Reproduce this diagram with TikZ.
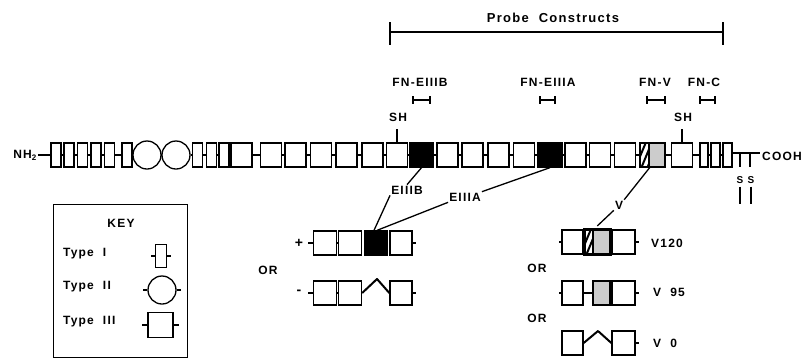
\documentclass[tikz,border=0pt]{standalone}
\usepackage{fontspec}
\setmainfont{Liberation Sans}[LetterSpace=10]
\usetikzlibrary{calc}
\begin{document}
\begin{tikzpicture}[x=1pt,y=-1pt,
  lw/.style={line width=1.3pt},
  dom/.style={draw, lw, fill=white, rectangle, inner sep=0pt, minimum height=24pt},
  tI/.style={dom, minimum width=10pt},
  tIII/.style={dom, minimum width=21pt},
  tII/.style={draw, lw, fill=white, circle, inner sep=0pt, minimum size=28pt},
  blk/.style={tIII, fill=black},
  stip/.style={dom, fill=gray!40},
  lab/.style={font=\fontsize{12}{14}\selectfont\bfseries, inner sep=1pt},
  rlab/.style={font=\fontsize{12}{14}\selectfont\bfseries, inner sep=1pt},
  bar/.style={line width=1.6pt},
  conn/.style={lw},
]
\useasboundingbox (0,0) rectangle (803,360);

% ---------- probe constructs ----------
\node[lab, font=\fontsize{13}{15}\selectfont\bfseries] (probe) at (553,18) {Probe\ \ Constructs};
\coordinate (pl) at (390,32);
\coordinate (pr) at (723,32);
\draw[lw] (pl) -- (pr);
\draw[lw] ($(pl)+(0,-10)$) -- ($(pl)+(0,13)$);
\draw[lw] ($(pr)+(0,-10)$) -- ($(pr)+(0,13)$);

\foreach \n/\x/\a/\b/\t in {fb/420/413/430/FN-EIIIB, fa/548/540/555/FN-EIIIA, fv/655/647/665/FN-V, fc/704/700/715/FN-C}{
  \node[lab] (\n) at (\x,82) {\t};
  \draw[bar] (\a,100) -- (\b,100);
  \draw[bar] (\a,96) -- (\a,104);
  \draw[bar] (\b,96) -- (\b,104);
}

% ---------- main chain ----------
\node[rlab] (nh2) at (25,155) {NH\textsubscript{2}};
\node[tI] (t1) at (56,155) {};
\node[tI] (t2) at (69,155) {};
\node[tI] (t3) at (82.5,155) {};
\node[tI] (t4) at (96,155) {};
\node[tI] (t5) at (109.5,155) {};
\node[tI] (t6) at (127,155) {};
\node[tII] (c1) at (147,155) {};
\node[tII] (c2) at (176,155) {};
\node[tI] (t7) at (197.5,155) {};
\node[tI] (t8) at (211.5,155) {};
\node[tI] (t9) at (224,155) {};
\node[tIII] (a1) at (241.5,155) {};
\node[tIII] (a2) at (271,155) {};
\node[tIII] (a3) at (295.5,155) {};
\node[tIII] (a4) at (321,155) {};
\node[tIII] (a5) at (346.5,155) {};
\node[tIII] (a6) at (372.5,155) {};
\node[tIII] (a7) at (397,155) {};
\node[blk, minimum width=23pt] (EB) at (421.5,155) {};
\node[tIII] (a8) at (447.5,155) {};
\node[tIII] (a9) at (472.5,155) {};
\node[tIII] (a10) at (498.5,155) {};
\node[tIII] (a11) at (524,155) {};
\node[blk, minimum width=24pt] (EA) at (550,155) {};
\node[tIII] (a12) at (575.5,155) {};
\node[tIII] (a13) at (600,155) {};
\node[tIII] (a14) at (625,155) {};
\node[dom, minimum width=9pt] (Vh) at (644.5,155) {};
\node[stip, minimum width=16pt] (Vs) at (657,155) {};
\node[tIII] (a15) at (682,155) {};
\node[tI, minimum width=8pt] (t10) at (704,155) {};
\node[tI, minimum width=9pt] (t11) at (715.5,155) {};
\node[tI, minimum width=9pt] (t12) at (727.5,155) {};
\begin{scope}
  \clip (Vh.south west) rectangle (Vh.north east);
  \foreach \d in {-10,-4,2,8} \draw[line width=2pt] ($(Vh.south west)+(\d,0)$) -- ++(10,-24);
\end{scope}
\draw[lw] (Vh.south west) rectangle (Vh.north east);

\foreach \a/\b in {t1/t2,t2/t3,t3/t4,t4/t5,t5/t6,t6/c1,c1/c2,c2/t7,t7/t8,t8/t9,t9/a1,a1/a2,a2/a3,a3/a4,a4/a5,a5/a6,a6/a7,a7/EB,EB/a8,a8/a9,a9/a10,a10/a11,a11/EA,EA/a12,a12/a13,a13/a14,a14/Vh,Vs/a15,a15/t10,t10/t11,t11/t12}
  \draw[conn] (\a) -- (\b);
\draw[conn] (nh2.east) -- (t1.west);

% C-terminal tail
\coordinate (tailend) at (760,153);
\coordinate (s1) at (740,153);
\coordinate (s2) at (750,153);
\draw[conn] (t12.east |- tailend) -- (tailend);
\draw[conn] (s1) -- ++(0,14);
\draw[conn] (s2) -- ++(0,14);
\node[rlab] (cooh) at (782,156) {COOH};
\node[rlab, font=\fontsize{10}{12}\selectfont\bfseries] (S1) at (740,180) {S};
\node[rlab, font=\fontsize{10}{12}\selectfont\bfseries] (S2) at (751,180) {S};
\draw[conn] ($(S1.south)+(0,2)$) -- ++(0,17);
\draw[conn] ($(S2.south)+(0,2)$) -- ++(0,17);

% SH
\node[rlab] (sh1) at (398,117) {SH};
\node[rlab] (sh2) at (683,117) {SH};
\draw[conn] (a7.north) -- ++(0,-13);
\draw[conn] (a15.north) -- ++(0,-13);

% ---------- labels below chain ----------
\node[rlab] (lEB) at (407,190) {EIIIB};
\node[rlab] (lEA) at (465,197) {EIIIA};
\node[rlab] (lV) at (619,205) {V};
\draw[conn] (EB.south) -- (lEB.north);
\draw[conn] (EA.south) -- (lEA.north east);
\draw[conn] (Vh.south east) -- (lV.north east);

% ---------- EIII alternatives ----------
\node[rlab, font=\fontsize{14}{16}\selectfont\bfseries] (plus) at (299,243) {+};
\node[tIII, minimum width=23pt] (p1) at (325,243) {};
\node[tIII, minimum width=23pt] (p2) at (350,243) {};
\node[blk, minimum width=23pt] (pb) at (376,243) {};
\node[tIII, minimum width=22pt] (p4) at (401,243) {};
\coordinate (pl0) at (308,243);
\coordinate (pr0) at (416,243);
\draw[conn] (pl0) -- (p1.west);
\draw[conn] (p1) -- (p2);
\draw[conn] (p4.east) -- (pr0);

\node[rlab] (or1) at (268,270) {OR};

\node[rlab, font=\fontsize{14}{16}\selectfont\bfseries] (minus) at (299,292) {-};
\node[tIII, minimum width=23pt] (m1) at (325,293) {};
\node[tIII, minimum width=23pt] (m2) at (350,293) {};
\node[tIII, minimum width=22pt] (m4) at (401,293) {};
\coordinate (ml0) at (308,293);
\coordinate (mr0) at (416,293);
\coordinate (mpeak) at (377,279);
\draw[conn] (ml0) -- (m1.west);
\draw[conn] (m1) -- (m2);
\draw[conn] (m4.east) -- (mr0);
\draw[line width=2pt, line join=round] (m2.east) -- (mpeak) -- (m4.west);

\draw[conn] (lEB.south west) -- ([xshift=-2pt]pb.north);
\draw[conn] (lEA.south west) -- ([xshift=1pt]pb.north);

% ---------- V alternatives ----------
\node[tIII] (va) at (572.5,242) {};
\node[dom, minimum width=8pt] (vh) at (589,242) {};
\node[stip, minimum width=17pt] (vs) at (601.5,242) {};
\node[tIII, minimum width=23pt] (vb) at (623.5,242) {};
\begin{scope}
  \clip (vh.south west) rectangle (vh.north east);
  \foreach \d in {-10,-4,2,8} \draw[line width=2pt] ($(vh.south west)+(\d,0)$) -- ++(10,-24);
\end{scope}
\draw[line width=2pt] (vh.south west) rectangle (vs.north east);
\coordinate (val) at (559,242);
\coordinate (var) at (639,242);
\draw[conn] (val) -- (va.west);
\draw[conn] (vb.east) -- (var);
\node[rlab, anchor=west] (v120) at (650,243) {V120};
\draw[conn, shorten >=5pt] (lV.south west) -- (vh.north east);

\node[rlab] (or2) at (537,268) {OR};

\node[tIII] (wa) at (572.5,293) {};
\node[stip, minimum width=17pt, line width=2pt] (ws) at (601.5,293) {};
\node[tIII, minimum width=23pt] (wb) at (623.5,293) {};
\coordinate (wal) at (559,293);
\coordinate (war) at (639,293);
\draw[conn] (wal) -- (wa.west);
\draw[conn] (wa) -- (ws);
\draw[conn] (wb.east) -- (war);
\node[rlab, anchor=west] (v95) at (652,292) {V\ \ 95};

\node[rlab] (or3) at (537,318) {OR};

\node[tIII] (xa) at (572.5,343) {};
\node[tIII, minimum width=23pt] (xb) at (623.5,343) {};
\coordinate (xpeak) at (598,331);
\coordinate (xar) at (639,343);
\draw[line width=2pt, line join=round] (xa.east) -- (xpeak) -- (xb.west);
\draw[conn] (xb.east) -- (xar);
\node[rlab, anchor=west] (v0) at (652,343) {V\ \ 0};

% ---------- key ----------
\node[draw, lw, rectangle, minimum width=134pt, minimum height=153pt, anchor=north west] (key) at (53,204) {};
\node[rlab] (keyt) at (121,223) {KEY};
\node[rlab, anchor=west] (ty1) at (62,254) {Type\ \ I};
\node[rlab, anchor=west] (ty2) at (62,287) {Type\ \ II};
\node[rlab, anchor=west] (ty3) at (62,322) {Type\ \ III};
\node[dom, minimum width=11pt, minimum height=23pt] (k1) at (161,256) {};
\draw[conn] (k1.west) -- ++(-4,0);
\draw[conn] (k1.east) -- ++(4,0);
\node[tII] (k2) at (162,290) {};
\draw[conn] (k2.west) -- ++(-4,0);
\draw[conn] (k2.east) -- ++(4,0);
\node[dom, minimum width=25pt, minimum height=25pt] (k3) at (160.5,325) {};
\draw[conn] (k3.west) -- ++(-5,0);
\draw[conn] (k3.east) -- ++(5,0);
\end{tikzpicture}
\end{document}
